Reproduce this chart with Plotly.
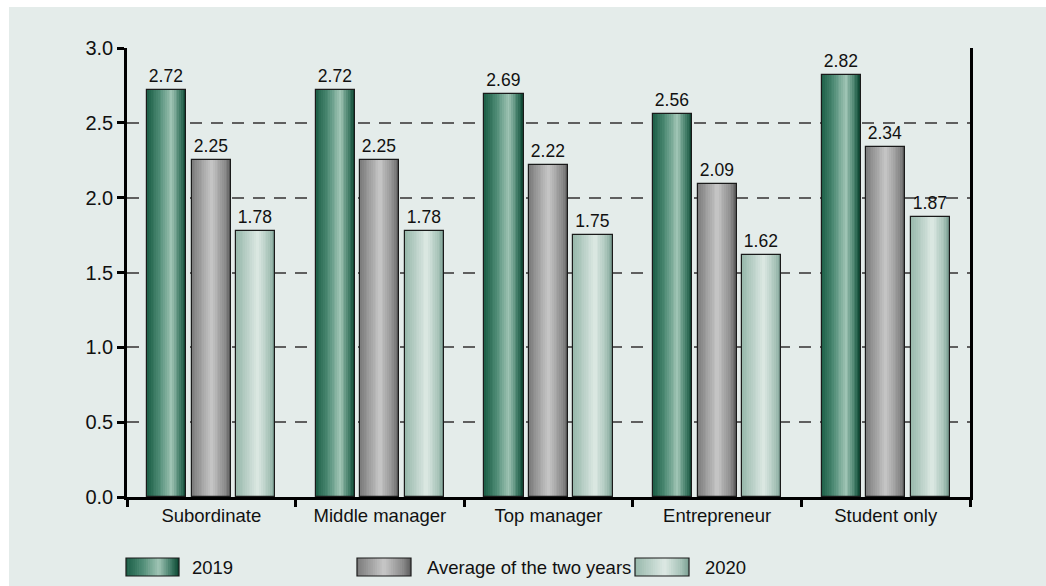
import plotly.graph_objects as go

# ---- data ----
categories = ["Subordinate", "Middle manager", "Top manager", "Entrepreneur", "Student only"]
values_2019 = [2.72, 2.72, 2.69, 2.56, 2.82]
values_avg = [2.25, 2.25, 2.22, 2.09, 2.34]
values_2020 = [1.78, 1.78, 1.75, 1.62, 1.87]
series_names = ["2019", "Average of the two years", "2020"]
y_ticks = [0.0, 0.5, 1.0, 1.5, 2.0, 2.5, 3.0]

# ---- styling ----
W, H = 1046, 586
ML, MR, MT, MB = 127, 76, 48, 89
PW, PH = W - ML - MR, H - MT - MB
FONT = "Liberation Sans, Arial, Helvetica, sans-serif"
PANEL = "#e4ecea"

# horizontal gradients (position across the bar, colour)
gradients = {
    "2019": [(0.0, "#1b5e46"), (0.3, "#4d8a74"), (0.62, "#a0c5b5"), (0.85, "#3f7a65"), (1.0, "#0a4530")],
    "Average of the two years": [(0.0, "#7a7a7a"), (0.5, "#c8c8c8"), (0.85, "#8a8a8a"), (1.0, "#5c5c5c")],
    "2020": [(0.0, "#97b8ab"), (0.55, "#dde9e4"), (0.85, "#a7c3b8"), (1.0, "#7a9f92")],
}

BAR_W = 0.232
CENTERS = [-0.264, 0.0, 0.264]
N_STRIPES = 22


def hex2rgb(h):
    h = h.lstrip("#")
    return tuple(int(h[i:i + 2], 16) for i in (0, 2, 4))


def grad_color(stops, t):
    for (p0, c0), (p1, c1) in zip(stops[:-1], stops[1:]):
        if p0 <= t <= p1:
            f = 0 if p1 == p0 else (t - p0) / (p1 - p0)
            a, b = hex2rgb(c0), hex2rgb(c1)
            return "rgb(%d,%d,%d)" % tuple(round(a[i] + (b[i] - a[i]) * f) for i in range(3))
    return stops[-1][1]


fig = go.Figure()

series_values = [values_2019, values_avg, values_2020]
step = BAR_W / N_STRIPES
for name, vals, c in zip(series_names, series_values, CENTERS):
    stops = gradients[name]
    left = c - BAR_W / 2
    # gradient body built from narrow vertical stripes
    for k in range(N_STRIPES):
        t = (k + 0.5) / N_STRIPES
        wk = step if k == N_STRIPES - 1 else step * 1.4
        fig.add_trace(go.Bar(
            x=categories, y=vals, width=[wk] * len(vals), offset=left + k * step,
            marker=dict(color=grad_color(stops, t), line=dict(width=0)),
            showlegend=False, hoverinfo="skip",
        ))
    # outline and value label
    fig.add_trace(go.Bar(
        x=categories, y=vals, width=[BAR_W] * len(vals), offset=left,
        marker=dict(color="rgba(0,0,0,0)", line=dict(color="#1a1a1a", width=1.2)),
        text=["%.2f" % v for v in vals], textposition="outside", constraintext="none",
        textfont=dict(family=FONT, size=17.5, color="#111"),
        cliponaxis=False, name=name, showlegend=False,
    ))


def px_x(px):
    return (px - ML) / PW


def px_y(py):
    return (H - MB - py) / PH


shapes = [
    # background panel
    dict(type="rect", xref="paper", yref="paper", layer="below",
         x0=px_x(9), x1=px_x(W + 5), y0=px_y(H + 5), y1=px_y(7),
         fillcolor=PANEL, line=dict(width=0)),
]
annotations = []

# legend swatches with the same gradients
legend_items = [(126, 179, 190), (357, 411, 425), (635, 689, 703)]
sy0, sy1 = 558, 576
for name, (x0, x1, tx) in zip(series_names, legend_items):
    stops = gradients[name]
    n = 24
    sw = (x1 - x0) / n
    for k in range(n):
        t = (k + 0.5) / n
        shapes.append(dict(type="rect", xref="paper", yref="paper",
                           x0=px_x(x0 + k * sw), x1=px_x(x0 + (k + 1.3) * sw if k < n - 1 else x1),
                           y0=px_y(sy1), y1=px_y(sy0),
                           fillcolor=grad_color(stops, t), line=dict(width=0)))
    shapes.append(dict(type="rect", xref="paper", yref="paper",
                       x0=px_x(x0), x1=px_x(x1), y0=px_y(sy1), y1=px_y(sy0),
                       fillcolor="rgba(0,0,0,0)", line=dict(color="#1a1a1a", width=1.2)))
    annotations.append(dict(xref="paper", yref="paper", x=px_x(tx), y=px_y((sy0 + sy1) / 2),
                            text=name, showarrow=False, xanchor="left", yanchor="middle",
                            font=dict(family=FONT, size=18.5, color="#111")))

fig.update_layout(
    width=W, height=H,
    margin=dict(l=ML, r=MR, t=MT, b=MB, pad=0),
    paper_bgcolor="white", plot_bgcolor="rgba(0,0,0,0)",
    barmode="overlay", bargap=0,
    font=dict(family=FONT, size=18.5, color="#111"),
    shapes=shapes, annotations=annotations,
    showlegend=False,
)
fig.update_xaxes(
    type="category", categoryorder="array", categoryarray=categories,
    showline=True, linecolor="black", linewidth=2.5,
    ticks="outside", tickson="boundaries", ticklen=7, tickwidth=2.5, tickcolor="black",
    showgrid=False, tickfont=dict(family=FONT, size=18.5, color="#111"),
)
fig.update_yaxes(
    range=[0, 3], tickvals=y_ticks, ticktext=["%.1f" % v for v in y_ticks],
    showline=True, linecolor="black", linewidth=2.5, mirror=True,
    ticks="outside", ticklen=7, tickwidth=2.5, tickcolor="black",
    showgrid=True, gridcolor="#5f5f5f", gridwidth=2, griddash="12px,9px",
    zeroline=False, tickfont=dict(family=FONT, size=20, color="#111"),
)

fig.write_html("out.html")
